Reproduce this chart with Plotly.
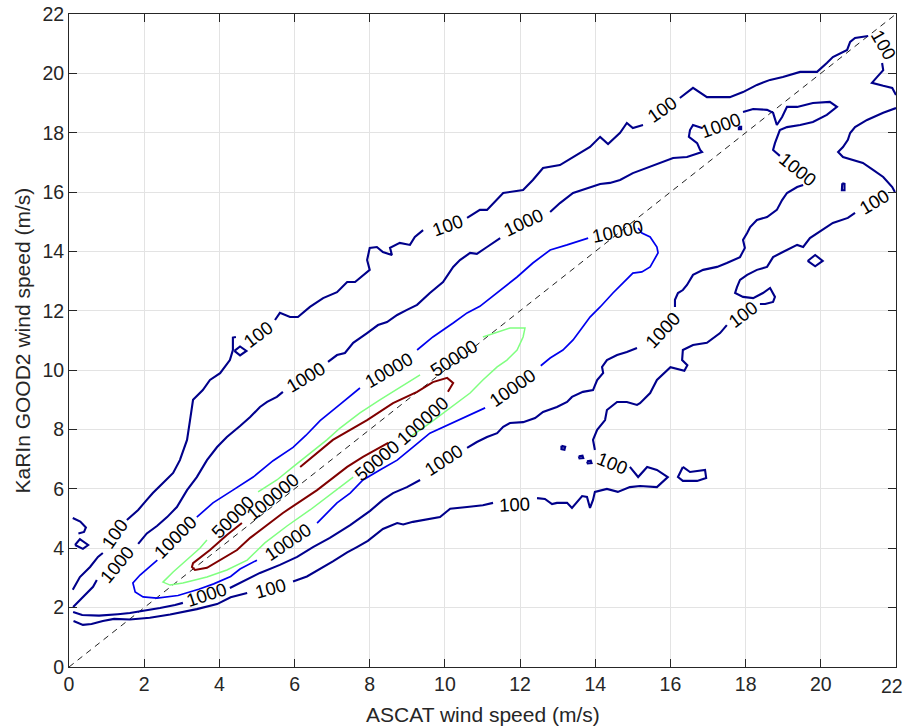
import plotly.graph_objects as go

# ---------------- data (m/s) ----------------
x_ticks = list(range(0, 23, 2))
y_ticks = list(range(0, 23, 2))
x_title = "ASCAT wind speed (m/s)"
y_title = "KaRIn GOOD2 wind speed (m/s)"

# contour level 100 : pieces of the iso-line (gaps are where labels sit)
c100_pieces = [
    [(0.1, 2.6), (0.29, 3.03), (0.56, 3.37), (0.77, 3.71), (0.9, 3.84)],
    [(1.54, 4.95), (1.84, 5.29), (2.07, 5.63), (2.23, 5.86), (2.5, 6.2), (2.77, 6.54), (2.95, 6.97),
     (3.14, 7.65), (3.22, 8.32), (3.3, 9.0), (3.56, 9.33), (3.75, 9.67), (4.02, 9.9), (4.28, 10.34),
     (4.36, 10.68), (4.36, 11.1), (4.44, 11.12)],
    [(5.48, 11.69), (5.61, 11.93), (5.88, 11.79), (6.09, 11.79), (6.41, 12.13), (6.76, 12.43),
     (7.13, 12.63), (7.4, 12.97), (7.61, 12.97), (8.0, 13.38), (7.93, 13.71), (8.0, 14.12),
     (8.19, 14.15), (8.35, 13.98), (8.59, 13.88), (8.54, 14.12), (8.8, 14.29), (9.07, 14.22),
     (9.2, 14.49), (9.42, 14.72)],
    [(10.59, 15.13), (10.93, 15.4), (11.12, 15.4), (11.55, 15.97), (12.08, 16.07), (12.34, 16.41),
     (12.61, 16.81), (13.06, 16.91), (13.41, 17.18), (13.86, 17.52), (14.13, 17.86), (14.34, 17.62),
     (14.66, 18.0), (14.84, 18.33), (15.0, 18.16), (15.27, 18.26)],
    [(16.25, 19.17), (16.6, 19.51), (16.97, 19.2), (17.58, 19.2), (17.93, 19.37), (18.3, 19.61),
     (18.65, 19.78), (18.99, 19.88), (19.45, 20.05), (19.9, 20.05), (20.16, 20.35), (20.32, 20.55),
     (20.7, 20.79), (20.78, 21.06), (20.91, 21.19), (21.12, 21.23), (21.26, 21.26)],
    [(21.63, 20.35), (21.66, 20.11), (21.5, 19.88), (21.36, 19.68), (21.66, 19.58), (21.9, 19.51),
     (22.0, 19.27)],
    [(22.0, 18.83), (21.66, 18.67), (21.23, 18.43), (20.91, 18.19), (20.78, 17.99), (20.72, 17.76),
     (20.59, 17.52), (20.46, 17.35), (20.59, 17.18), (20.86, 17.08), (21.12, 16.98), (21.39, 16.75),
     (21.66, 16.51), (21.9, 16.17), (21.97, 16.0)],
    [(20.91, 15.3), (20.72, 15.13), (20.32, 14.96), (19.98, 14.66), (19.71, 14.45), (19.53, 14.15),
     (19.37, 14.22), (18.99, 13.98), (18.73, 13.81), (18.57, 13.48), (18.3, 13.38), (18.04, 13.21),
     (17.85, 13.04), (17.77, 12.8), (17.72, 12.6), (17.93, 12.47), (18.2, 12.43), (18.46, 12.6),
     (18.65, 12.77), (18.78, 12.47), (18.73, 12.3), (18.52, 12.23), (18.38, 12.23)],
    [(17.5, 11.52), (17.32, 11.25), (16.97, 10.92), (16.6, 10.85), (16.33, 10.68), (16.31, 10.34),
     (16.45, 10.17), (16.37, 9.98), (16.0, 10.1), (15.64, 9.67), (15.46, 9.23), (15.19, 8.89),
     (15.11, 8.83), (14.84, 8.93), (14.58, 8.93), (14.31, 8.66), (14.26, 8.32), (14.05, 7.99),
     (13.94, 7.65), (13.99, 7.31)],
    [(14.92, 6.74), (15.14, 6.4), (15.38, 6.74), (15.64, 6.64), (15.93, 6.4), (15.64, 6.06),
     (15.19, 6.1), (14.92, 6.06), (14.6, 5.9), (14.31, 6.0), (13.99, 5.9), (13.94, 5.63),
     (13.86, 5.36), (13.78, 5.73), (13.65, 5.76), (13.38, 5.36), (13.25, 5.53), (12.98, 5.53),
     (12.85, 5.49), (12.66, 5.66), (12.45, 5.69)],
    [(11.28, 5.53), (11.01, 5.45), (10.59, 5.39), (10.14, 5.33), (9.87, 5.05), (9.42, 4.95),
     (9.15, 4.89), (8.89, 4.8), (8.73, 4.85), (8.35, 4.65), (7.95, 4.25), (7.66, 4.04), (7.4, 3.86),
     (7.02, 3.56), (6.68, 3.3), (6.33, 3.05), (5.96, 2.88)],
    [(4.74, 2.49), (4.3, 2.35), (3.94, 2.12), (3.4, 1.95), (2.69, 1.77), (2.15, 1.66), (1.62, 1.6),
     (1.2, 1.62), (0.9, 1.55), (0.6, 1.45), (0.37, 1.42), (0.12, 1.55)],
    # small islands
    [(0.16, 4.11), (0.29, 4.31), (0.51, 4.11), (0.37, 3.98), (0.16, 4.11)],
    [(0.1, 5.02), (0.3, 4.9), (0.45, 4.7), (0.4, 4.55), (0.25, 4.5)],
    [(4.4, 10.65), (4.55, 10.8), (4.72, 10.65), (4.55, 10.5), (4.4, 10.65)],
    [(16.33, 6.74), (16.52, 6.57), (16.92, 6.64), (16.95, 6.37), (16.71, 6.27), (16.33, 6.27),
     (16.2, 6.4), (16.33, 6.74)],
    [(19.65, 13.68), (19.85, 13.88), (20.05, 13.68), (19.85, 13.5), (19.65, 13.68)],
    [(13.1, 7.45), (13.2, 7.42), (13.18, 7.32), (13.1, 7.34), (13.1, 7.45)],
    [(13.56, 7.1), (13.66, 7.12), (13.68, 7.04), (13.58, 7.03), (13.56, 7.1)],
    [(13.78, 6.93), (13.88, 6.95), (13.9, 6.87), (13.8, 6.86), (13.78, 6.93)],
    [(20.57, 16.3), (20.63, 16.28), (20.63, 16.06), (20.56, 16.06), (20.57, 16.3)],
]

# contour level 1000
c1000_pieces = [
    [(0.11, 2.02), (0.48, 2.49), (0.64, 2.7), (0.74, 2.93)],
    [(1.84, 4.15), (2.07, 4.5), (2.34, 4.75), (2.61, 5.05), (2.87, 5.39), (3.14, 5.96), (3.4, 6.4),
     (3.67, 6.97), (3.94, 7.41), (4.2, 7.75), (4.55, 8.12), (4.82, 8.42), (5.08, 8.76), (5.27, 8.93),
     (5.53, 9.1), (5.69, 9.27)],
    [(6.89, 10.28), (7.13, 10.51), (7.34, 10.58), (7.56, 10.92), (7.93, 11.25), (8.22, 11.52),
     (8.46, 11.62), (8.73, 11.86), (8.99, 12.03), (9.26, 12.2), (9.6, 12.6), (9.95, 12.97),
     (10.22, 13.48), (10.4, 13.71), (10.67, 13.95), (10.85, 13.92), (11.12, 14.15), (11.47, 14.45)],
    [(12.8, 15.33), (13.06, 15.63), (13.41, 15.97), (13.67, 16.07), (14.13, 16.27), (14.39, 16.31),
     (14.66, 16.41), (15.0, 16.64), (15.46, 16.85), (15.72, 16.98), (16.07, 17.15), (16.44, 17.18),
     (16.84, 17.35), (16.79, 17.42), (16.71, 17.65), (16.49, 17.86), (16.52, 18.09), (16.6, 18.26),
     (16.84, 18.16)],
    [(17.93, 18.7), (18.2, 18.8), (18.57, 18.77), (18.73, 18.67), (18.83, 18.26), (18.97, 18.53),
     (19.1, 18.87), (19.37, 18.87), (19.79, 19.0), (20.24, 19.04), (20.43, 18.87), (20.16, 18.6),
     (19.79, 18.36), (19.45, 18.26), (19.1, 18.19), (18.91, 18.09), (18.78, 17.65), (18.73, 17.42),
     (18.91, 17.22)],
    [(19.53, 16.24), (19.37, 16.17), (19.1, 15.97), (18.97, 15.73), (18.83, 15.4), (18.57, 15.16),
     (18.3, 15.06), (18.12, 14.82), (18.04, 14.62), (17.93, 14.39), (17.98, 14.12), (17.85, 13.81),
     (17.5, 13.61), (17.24, 13.48), (16.87, 13.38), (16.6, 13.21), (16.44, 12.87), (16.33, 12.7),
     (16.2, 12.6), (16.12, 12.37), (16.12, 12.13)],
    [(15.11, 10.75), (14.84, 10.61), (14.58, 10.51), (14.31, 10.34), (14.18, 10.11), (14.21, 9.91),
     (14.05, 9.67), (13.94, 9.33), (13.67, 9.27), (13.38, 9.1), (13.25, 8.93), (12.98, 8.76),
     (12.61, 8.59), (12.4, 8.39), (12.08, 8.25), (11.73, 8.22), (11.55, 8.09), (11.39, 7.88),
     (11.12, 7.75), (10.85, 7.58), (10.59, 7.38)],
    [(9.34, 6.3), (8.99, 6.06), (8.62, 5.86), (8.35, 5.63), (8.01, 5.26), (7.48, 4.78), (6.94, 4.35),
     (6.49, 4.04), (6.07, 3.71), (5.61, 3.44), (5.08, 3.17), (4.55, 2.83), (4.28, 2.66)],
    [(3.03, 2.16), (2.82, 2.09), (2.42, 1.99), (1.97, 1.89), (1.62, 1.82), (1.3, 1.78), (0.8, 1.73),
     (0.35, 1.75), (0.11, 1.85)],
    [(17.82, 18.2), (17.88, 18.2), (17.88, 18.12), (17.82, 18.12), (17.82, 18.2)],
]

# contour level 10000
c10000_pieces = [
    [(3.4, 5.05), (3.83, 5.53), (4.36, 5.96), (4.9, 6.4), (5.43, 6.95), (5.96, 7.4), (6.3, 7.8),
     (6.68, 8.3), (7.21, 8.85), (7.74, 9.4)],
    [(9.26, 10.68), (9.68, 11.12), (10.22, 11.59), (10.59, 11.93), (10.93, 12.15), (11.39, 12.6),
     (11.92, 13.14), (12.34, 13.61), (12.8, 14.05), (13.25, 14.22), (13.81, 14.45)],
    [(15.14, 14.79), (15.24, 14.62), (15.46, 14.49), (15.64, 14.15), (15.67, 13.95), (15.46, 13.48),
     (15.24, 13.31), (15.0, 13.27), (14.74, 12.94), (14.47, 12.6), (14.13, 12.13), (13.86, 11.79),
     (13.67, 11.46), (13.41, 11.02), (13.14, 10.68), (12.8, 10.41), (12.55, 10.15)],
    [(11.07, 8.73), (10.55, 8.42), (10.1, 8.15), (9.6, 7.88), (9.15, 7.41), (8.73, 6.97),
     (8.27, 6.64), (7.82, 6.3), (7.48, 5.86), (7.13, 5.53), (6.6, 4.85)],
    [(5.0, 3.6), (4.55, 3.3), (4.3, 3.05), (3.85, 2.8), (3.45, 2.62), (2.9, 2.41), (2.34, 2.32),
     (1.97, 2.36), (1.76, 2.53), (1.7, 2.83), (1.89, 3.1), (2.21, 3.44), (2.35, 3.6)],
]

# contour level 50000
c50000_pieces = [
    [(5.03, 5.9), (5.53, 6.3), (5.96, 6.74), (6.41, 7.21), (6.86, 7.65), (7.21, 8.05), (7.74, 8.56),
     (8.27, 9.0), (8.81, 9.43), (9.34, 9.84)],
    [(11.01, 11.12), (11.39, 11.29), (11.73, 11.42), (12.13, 11.42), (12.08, 11.12), (11.92, 10.68),
     (11.65, 10.34), (11.39, 10.11), (11.01, 9.67), (10.67, 9.23), (10.32, 8.89), (9.95, 8.56),
     (9.6, 8.22), (9.07, 7.75)],
    [(7.56, 6.4), (7.0, 5.85), (6.41, 5.29), (5.8, 4.75), (5.21, 4.18), (4.74, 3.6), (4.2, 3.27),
     (3.67, 3.03), (3.03, 2.83), (2.69, 2.76), (2.5, 2.86), (2.77, 3.2), (3.14, 3.6), (3.48, 4.0),
     (3.67, 4.28)],
]

# contour level 100000
c100000_pieces = [
    [(4.6, 4.85), (4.2, 4.45), (3.75, 3.94), (3.3, 3.5), (3.27, 3.37), (3.35, 3.27), (3.67, 3.34),
     (4.02, 3.6), (4.47, 3.94), (4.82, 4.35), (5.69, 5.19), (6.6, 5.96), (7.4, 6.74), (7.82, 7.08),
     (8.49, 7.55)],
    [(6.15, 6.74), (7.02, 7.65), (7.93, 8.32), (8.62, 8.89), (9.26, 9.27), (9.68, 9.6), (10.06, 9.74),
     (10.22, 9.57), (10.08, 9.27)],
]

# contour labels: (x, y, text, screen rotation in degrees)
contour_labels = [
    (1.22, 4.5, "100", -55), (1.27, 3.47, "1000", -50), (2.82, 4.35, "10000", -45),
    (4.34, 5.05, "50000", -45), (5.43, 5.73, "100000", -40), (5.03, 11.19, "100", -37),
    (6.28, 9.77, "1000", -31), (8.49, 10.0, "10000", -30), (10.22, 10.41, "50000", -33),
    (10.06, 14.89, "100", -20), (12.08, 14.96, "1000", -25), (14.58, 14.66, "10000", -12),
    (15.78, 18.77, "100", -35), (17.32, 18.26, "1000", -20), (21.66, 20.96, "100", 60),
    (19.39, 16.75, "1000", 39), (21.44, 15.67, "100", -31), (15.78, 11.35, "1000", -47),
    (17.93, 11.86, "100", -37), (14.47, 6.87, "100", 22), (11.81, 9.4, "10000", -35),
    (9.42, 8.29, "100000", -42), (8.19, 6.97, "50000", -40), (9.95, 6.97, "1000", -33),
    (11.86, 5.49, "100", -3), (5.8, 4.21, "10000", -34), (3.67, 2.43, "1000", -18),
    (5.35, 2.66, "100", -15),
]

one_to_one = [0, 22]

# ---------------- figure ----------------
FONT = "Liberation Sans, Arial, Helvetica, sans-serif"
INK = "#262626"


def flatten(pieces):
    xs, ys = [], []
    for piece in pieces:
        for px, py in piece:
            xs.append(px)
            ys.append(py)
        xs.append(None)
        ys.append(None)
    return xs, ys


fig = go.Figure()

fig.add_trace(go.Scatter(x=one_to_one, y=one_to_one, mode="lines",
                         line=dict(color="#222222", width=1, dash="6px,5px"),
                         hoverinfo="skip"))

styles = [
    (c100_pieces, "#00008a", 2.1),
    (c1000_pieces, "#00008f", 2.1),
    (c10000_pieces, "#0000ee", 1.7),
    (c50000_pieces, "#80ff80", 1.5),
    (c100000_pieces, "#800000", 2.0),
]
for pieces, color, w in styles:
    xs, ys = flatten(pieces)
    fig.add_trace(go.Scatter(x=xs, y=ys, mode="lines", connectgaps=False,
                             line=dict(color=color, width=w), hoverinfo="skip"))

annotations = []
for lx, ly, txt, ang in contour_labels:
    annotations.append(dict(x=lx, y=ly, xref="x", yref="y", text=txt, showarrow=False,
                            textangle=ang, xanchor="center", yanchor="middle",
                            font=dict(family=FONT, size=18.5, color="black")))

annotations.append(dict(x=0.5, y=0, xref="paper", yref="paper", text=x_title, showarrow=False,
                        xanchor="center", yanchor="middle", yshift=-47,
                        font=dict(family=FONT, size=21, color=INK)))
annotations.append(dict(x=0, y=0.5, xref="paper", yref="paper", text=y_title, showarrow=False,
                        xanchor="center", yanchor="middle", xshift=-47, textangle=-90,
                        font=dict(family=FONT, size=21, color=INK)))
# last x tick label sits at the very right edge of the canvas: keep it inside
annotations.append(dict(x=1, y=0, xref="paper", yref="paper", text=str(x_ticks[-1]),
                        showarrow=False, xanchor="right", yanchor="middle",
                        xshift=8, yshift=-19, borderpad=0,
                        font=dict(family=FONT, size=19.5, color=INK)))

x_ticktext = [str(v) for v in x_ticks[:-1]] + [""]

axis_common = dict(range=[0, 22], showgrid=True, gridcolor="#e3e3e3", gridwidth=1,
                   showline=True, linecolor=INK, linewidth=1, mirror="allticks",
                   ticks="inside", ticklen=8, tickwidth=1, tickcolor=INK,
                   tickfont=dict(family=FONT, size=19.5, color=INK), zeroline=False,
                   automargin=False, ticklabeloverflow="allow")

fig.update_layout(
    width=905, height=727,
    margin=dict(l=69, r=9, t=14, b=60, autoexpand=False),
    paper_bgcolor="white", plot_bgcolor="white",
    showlegend=False,
    xaxis=dict(tickvals=x_ticks, ticktext=x_ticktext, **axis_common),
    yaxis=dict(tickvals=y_ticks, ticktext=[str(v) for v in y_ticks], **axis_common),
    annotations=annotations,
)

fig.write_html("out.html", config={"displayModeBar": False},
               post_script="document.body.style.margin='0';document.body.style.overflow='hidden';")
